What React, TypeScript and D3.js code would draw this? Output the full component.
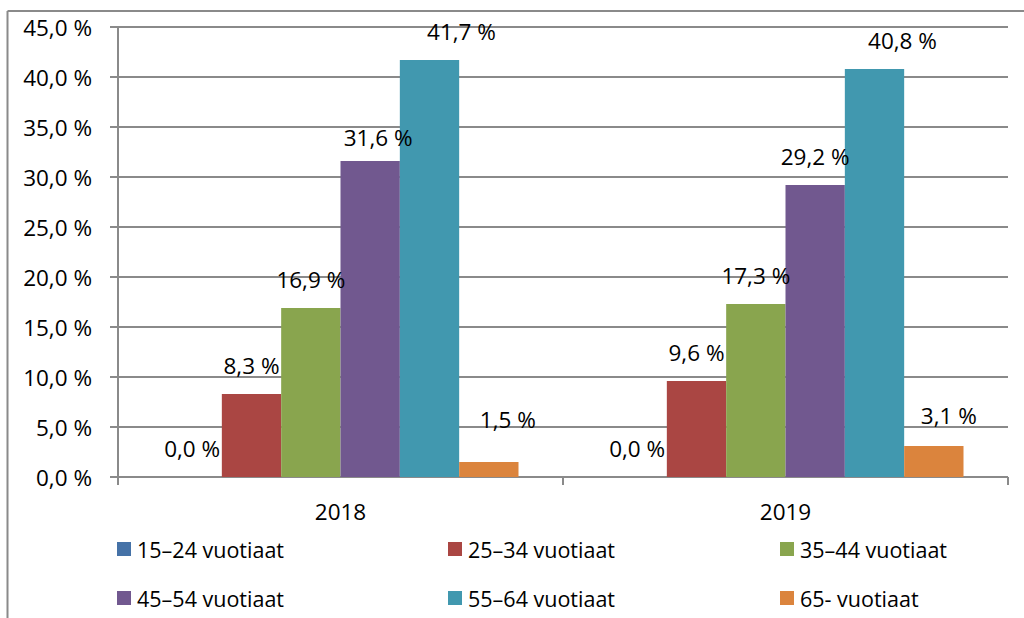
import React from "react";
import * as d3 from "d3";

const categories = ["2018", "2019"];
const seriesNames = [
  "15–24 vuotiaat",
  "25–34 vuotiaat",
  "35–44 vuotiaat",
  "45–54 vuotiaat",
  "55–64 vuotiaat",
  "65- vuotiaat",
];
const values2018 = [0.0, 8.3, 16.9, 31.6, 41.7, 1.5];
const values2019 = [0.0, 9.6, 17.3, 29.2, 40.8, 3.1];
const yTicks = [0, 5, 10, 15, 20, 25, 30, 35, 40, 45];

const colors = ["#4572A7", "#AA4643", "#89A54E", "#71588F", "#4198AF", "#DB843D"];
// manual label nudges (as placed in the original chart)
const labelNudgeX = [
  [0, 0, 0, 8, 32, 19],
  [0, 0, 0, 0, 28, 15],
];
const labelNudgeY = [
  [0, 0, 0, 5, 0, -14],
  [0, 0, 0, 0, 0, -2],
];

const W = 1024;
const H = 618;
const FONT = "'Open Sans', 'Liberation Sans', sans-serif";
const FS = 22.5;
const FS_LEGEND = 21.5;
const GRID = "#8a8a8a";

const fmt = (v: number) => d3.format(".1f")(v).replace(".", ",") + " %";

export default function App() {
  const data = [values2018, values2019];
  const left = 118;
  const right = 1008;
  const top = 27;
  const bottom = 477;

  const y = d3.scaleLinear().domain([0, 45]).range([bottom, top]);
  const x0 = d3.scaleBand<string>().domain(categories).range([left, right]).padding(0);
  const bw = x0.bandwidth();
  const w = bw / 7.5;
  const x1 = d3
    .scaleBand<string>()
    .domain(seriesNames)
    .range([0.75 * w, bw - 0.75 * w])
    .padding(0);

  const catEdges = [left, ...categories.map((c) => (x0(c) as number) + bw)];

  const legendCols = [117, 448, 780];
  const legendRows = [549, 598];

  return (
    <svg
      width={W}
      height={H}
      style={{ position: "absolute", left: 0, top: 0, background: "#fff" }}
      fontFamily={FONT}
    >
      <rect x={0} y={0} width={W} height={H} fill="#fff" />
      {/* frame */}
      <line x1={7.5} y1={11} x2={W} y2={11} stroke={GRID} strokeWidth={2} />
      <line x1={7.5} y1={11} x2={7.5} y2={H} stroke={GRID} strokeWidth={2} />

      {/* gridlines & y ticks */}
      {yTicks.map((t) => (
        <g key={t}>
          <line x1={left - 8} x2={right} y1={y(t)} y2={y(t)} stroke={GRID} strokeWidth={2} />
          <text
            x={92}
            y={y(t)}
            textAnchor="end"
            dominantBaseline="central"
            fontSize={FS}
            fill="#000"
          >
            {fmt(t)}
          </text>
        </g>
      ))}
      {/* y axis */}
      <line x1={left} x2={left} y1={top} y2={bottom} stroke={GRID} strokeWidth={2} />
      {/* category ticks */}
      {catEdges.map((e, i) => (
        <line key={i} x1={e} x2={e} y1={bottom} y2={bottom + 8} stroke={GRID} strokeWidth={2} />
      ))}

      {/* bars */}
      {categories.map((c, ci) =>
        seriesNames.map((s, si) => {
          const v = data[ci][si];
          const bx = (x0(c) as number) + (x1(s) as number);
          return (
            <rect
              key={c + s}
              x={bx}
              y={y(v)}
              width={x1.bandwidth()}
              height={bottom - y(v)}
              fill={colors[si]}
            />
          );
        })
      )}

      {/* value labels */}
      {categories.map((c, ci) =>
        seriesNames.map((s, si) => {
          const v = data[ci][si];
          const cx = (x0(c) as number) + (x1(s) as number) + x1.bandwidth() / 2;
          return (
            <text
              key={"l" + c + s}
              x={cx + labelNudgeX[ci][si]}
              y={y(v) - 28.5 + labelNudgeY[ci][si]}
              textAnchor="middle"
              dominantBaseline="central"
              fontSize={FS}
              fill="#000"
            >
              {fmt(v)}
            </text>
          );
        })
      )}

      {/* category labels */}
      {categories.map((c) => (
        <text
          key={"c" + c}
          x={(x0(c) as number) + bw / 2}
          y={511}
          textAnchor="middle"
          dominantBaseline="central"
          fontSize={FS}
          fill="#000"
        >
          {c}
        </text>
      ))}

      {/* legend */}
      {seriesNames.map((s, i) => {
        const lx = legendCols[i % 3];
        const ly = legendRows[Math.floor(i / 3)];
        return (
          <g key={"lg" + s}>
            <rect x={lx} y={ly - 7} width={14} height={14} fill={colors[i]} />
            <text x={lx + 20} y={ly} dominantBaseline="central" fontSize={FS_LEGEND} fill="#000">
              {s}
            </text>
          </g>
        );
      })}
    </svg>
  );
}
